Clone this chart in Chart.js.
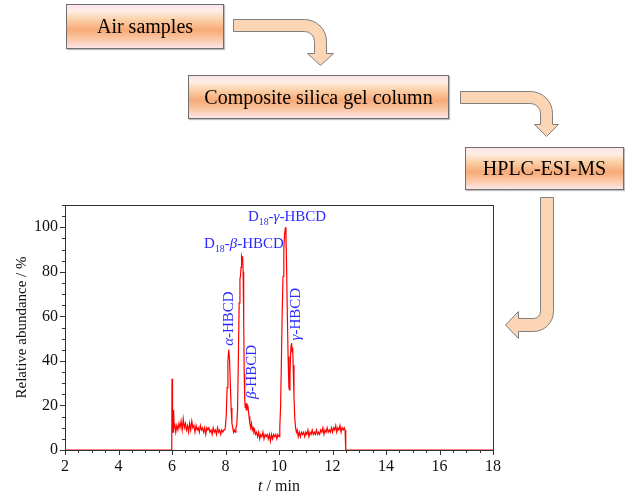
<!doctype html>
<html lang="en">
<head>
  <meta charset="utf-8">
  <title>HBCD chromatogram</title>
  <style>
    * { margin: 0; padding: 0; }
    body { width: 625px; height: 498px; background: white; overflow: hidden; position: relative; }
    .chartBox { position: absolute; left: 0; top: 0; width: 625px; height: 498px; }
    .box {
      position: absolute;
      border: 1px solid #6e6e6e;
      box-shadow: 1px 1px 1px rgba(0,0,0,0.25);
      background: linear-gradient(to bottom, #fce3ea 0%, #fdeee6 14%, #fbd0a8 34%, #f8aa78 58%, #fbc8a6 80%, #fce5e8 100%);
      font-family: 'Liberation Serif', serif;
      font-size: 20px;
      color: #000;
      display: flex;
      align-items: center;
      justify-content: center;
      box-sizing: border-box;
    }
    #arrows { position: absolute; left: 0; top: 0; }
  </style>
</head>
<body>
  <div class="chartBox"><canvas id="myChart"></canvas></div>

  <!-- flow chart on top -->
  <div class="box" style="left:66px; top:4px; width:158px; height:45px;">Air samples</div>
  <div class="box" style="left:188px; top:75px; width:261px; height:44px;">Composite silica gel column</div>
  <div class="box" style="left:465px; top:147px; width:159px; height:43px;">HPLC-ESI-MS</div>
  <svg id="arrows" width="625" height="498">
    <g fill="#fcd5b4" stroke="#7f7f7f" stroke-width="1">
      <path d="M233.5 19.5 H304.5 A22 22 0 0 1 326.5 41.5 V53.5 H333.5 L320.5 65.5 L307.5 53.5 H314.5 V41.5 A10 10 0 0 0 304.5 31.5 H233.5 Z"/>
      <path d="M460.5 91.5 H530.5 A22 22 0 0 1 552.5 113.5 V124.5 H558.5 L546.5 136.5 L534.5 124.5 H540.5 V113.5 A10 10 0 0 0 530.5 103.5 H460.5 Z"/>
      <path d="M540.5 197.5 H553.5 V311.5 A20 20 0 0 1 533.5 331.5 H518.5 V338.5 L505.5 325 L518.5 311.5 V318.5 H533.5 A7 7 0 0 0 540.5 311.5 Z"/>
    </g>
  </svg>

  <script type="text/javascript" src="https://cdn.jsdelivr.net/npm/chart.js"></script>
  <script>
    // retention time (min) and relative abundance (%)
    const time = [
      2.00, 5.99, 6.00, 6.02, 6.04, 6.06, 6.08, 6.10, 6.14, 6.18, 6.22, 6.26, 6.30, 6.34, 6.38, 6.42, 6.46, 6.50,
      6.54, 6.58, 6.62, 6.66, 6.70, 6.74, 6.78, 6.82, 6.86, 6.90, 6.94, 6.98, 7.02, 7.06, 7.10, 7.14, 7.18, 7.22,
      7.26, 7.30, 7.34, 7.38, 7.42, 7.46, 7.50, 7.54, 7.58, 7.62, 7.66, 7.70, 7.74, 7.78, 7.82, 7.86, 7.90, 7.94,
      7.98, 8.00, 8.03, 8.06, 8.09, 8.12, 8.15, 8.18, 8.21, 8.24, 8.27, 8.30, 8.33, 8.36, 8.39, 8.42, 8.45, 8.48,
      8.51, 8.54, 8.56, 8.58, 8.60, 8.62, 8.64, 8.66, 8.68, 8.70, 8.72, 8.74, 8.76, 8.78, 8.80, 8.82, 8.84, 8.86,
      8.88, 8.91, 8.94, 8.97, 9.00, 9.03, 9.06, 9.09, 9.12, 9.16, 9.20, 9.24, 9.28, 9.32, 9.36, 9.40, 9.44, 9.48,
      9.52, 9.56, 9.60, 9.64, 9.68, 9.72, 9.76, 9.80, 9.84, 9.88, 9.92, 9.96, 10.00, 10.03, 10.06, 10.09, 10.12,
      10.15, 10.18, 10.21, 10.24, 10.26, 10.28, 10.31, 10.34, 10.37, 10.39, 10.41, 10.43, 10.45, 10.47, 10.49,
      10.51, 10.53, 10.56, 10.59, 10.62, 10.65, 10.68, 10.72, 10.76, 10.80, 10.84, 10.88, 10.92, 10.96, 11.00,
      11.04, 11.08, 11.12, 11.16, 11.20, 11.24, 11.28, 11.32, 11.36, 11.40, 11.44, 11.48, 11.52, 11.56, 11.60,
      11.64, 11.68, 11.72, 11.76, 11.80, 11.84, 11.88, 11.92, 11.96, 12.00, 12.04, 12.08, 12.12, 12.16, 12.20,
      12.24, 12.28, 12.32, 12.36, 12.40, 12.44, 12.47, 12.49, 12.50, 18.00
    ];
    const abundance = [
      0, 0, 32, 20, 8, 18, 10, 12, 8, 11, 9, 12, 10, 13, 9, 14, 10, 12,
      9, 11, 8, 12, 9, 13, 10, 11, 8, 11, 9, 10, 8, 11, 9, 10, 8, 10,
      7, 10, 9, 10, 8, 9, 7, 10, 8, 9, 7, 10, 8, 9, 7, 9, 8, 9,
      9, 11, 16, 28, 40, 45, 41, 30, 19, 12, 10, 8, 9, 8, 10, 11, 18, 40,
      66, 77, 78, 82, 87, 86, 87, 80, 58, 34, 22, 19, 21, 18, 21, 19, 20, 17,
      15, 12, 10, 12, 9, 10, 8, 9, 7, 8, 6, 8, 5, 7, 6, 8, 5, 7,
      6, 7, 5, 7, 4, 7, 5, 7, 6, 7, 5, 7, 6, 10, 20, 40, 62,
      78, 90, 97, 100, 97, 85, 62, 42, 28, 27, 33, 42, 47, 48, 44,
      46, 38, 24, 14, 10, 8, 9, 6, 8, 6, 8, 7, 8, 6, 8,
      7, 9, 6, 8, 7, 9, 7, 8, 7, 9, 7, 8, 7, 9, 8,
      10, 7, 9, 8, 10, 8, 9, 8, 10, 8, 10, 9, 11, 8, 10,
      9, 11, 8, 10, 9, 10, 9, 8, 0, 0
    ];

    const xTicks = [2, 4, 6, 8, 10, 12, 14, 16, 18];
    const yTicks = [0, 20, 40, 60, 80, 100];

    // peak names: text pieces, anchor in data units
    const peakNames = [
      { parts: [['D'], ['18', 'sub'], ['-'], ['\u03B3', 'it'], ['-HBCD']], x: 10.30, y: 103, rotate: false },
      { parts: [['D'], ['18', 'sub'], ['-'], ['\u03B2', 'it'], ['-HBCD']], x: 8.69, y: 90.6, rotate: false },
      { parts: [['\u03B1', 'it'], ['-HBCD']], x: 8.13, y: 59, rotate: true },
      { parts: [['\u03B2', 'it'], ['-HBCD']], x: 8.99, y: 35, rotate: true },
      { parts: [['\u03B3', 'it'], ['-HBCD']], x: 10.64, y: 61, rotate: true }
    ];

    const serif = "'Liberation Serif', 'Times New Roman', serif";

    function fontFor(kind, size) {
      if (kind === 'sub') return (size * 0.65) + 'px ' + serif;
      if (kind === 'it') return 'italic ' + size + 'px ' + serif;
      return size + 'px ' + serif;
    }

    // draws mixed text (italic / subscript) centred on 0,0 of the current transform
    function drawParts(ctx, parts, size) {
      let total = 0;
      parts.forEach(p => { ctx.font = fontFor(p[1], size); total += ctx.measureText(p[0]).width; });
      let cx = -total / 2;
      parts.forEach(p => {
        ctx.font = fontFor(p[1], size);
        ctx.fillText(p[0], cx, p[1] === 'sub' ? size * 0.28 : 0);
        cx += ctx.measureText(p[0]).width;
      });
    }

    const frame = {
      id: 'frame',
      beforeDatasetsDraw(chart) {
        const { ctx, chartArea: a, scales: { x, y } } = chart;
        ctx.save();
        ctx.strokeStyle = '#333';
        ctx.lineWidth = 1;
        ctx.strokeRect(Math.round(a.left) + 0.5, Math.round(a.top) + 0.5,
          Math.round(a.right - a.left), Math.round(a.bottom - a.top));
        ctx.beginPath();
        // x ticks every 0.5 min, longer on the labelled ones
        for (let t = 2; t <= 18; t += 0.5) {
          const px = Math.round(x.getPixelForValue(t)) + 0.5;
          const len = xTicks.includes(t) ? 5 : 3;
          ctx.moveTo(px, Math.round(a.bottom)); ctx.lineTo(px, Math.round(a.bottom) + len);
        }
        for (let v = 0; v <= 110; v += 5) {
          const py = Math.round(y.getPixelForValue(v)) + 0.5;
          const len = yTicks.includes(v) ? 5 : 3;
          ctx.moveTo(Math.round(a.left), py); ctx.lineTo(Math.round(a.left) - len, py);
        }
        ctx.stroke();
        ctx.restore();
      },
      afterDraw(chart) {
        const { ctx, chartArea: a, scales: { x, y } } = chart;
        ctx.save();
        // peak names
        ctx.fillStyle = '#2a2aff';
        ctx.textAlign = 'left';
        peakNames.forEach(n => {
          ctx.save();
          ctx.translate(x.getPixelForValue(n.x), y.getPixelForValue(n.y));
          if (n.rotate) {
            ctx.rotate(-Math.PI / 2);
            ctx.textBaseline = 'middle';
          } else {
            ctx.textBaseline = 'alphabetic';
          }
          drawParts(ctx, n.parts, 15);
          ctx.restore();
        });
        // axis titles
        ctx.fillStyle = '#111';
        ctx.textBaseline = 'alphabetic';
        ctx.save();
        ctx.translate((a.left + a.right) / 2, 491);
        drawParts(ctx, [['t', 'it'], [' / min']], 16);
        ctx.restore();
        ctx.save();
        ctx.translate(22, (a.top + a.bottom) / 2);
        ctx.rotate(-Math.PI / 2);
        ctx.textBaseline = 'middle';
        drawParts(ctx, [['Relative abundance / %']], 15);
        ctx.restore();
        ctx.restore();
      }
    };

    const data = {
      datasets: [{
        data: time.map((t, i) => ({ x: t, y: abundance[i] })),
        borderColor: '#ff0000',
        borderWidth: 1.2,
        pointRadius: 0,
        tension: 0,
        fill: false
      }]
    };

    const config = {
      type: 'line',
      data,
      options: {
        responsive: true,
        maintainAspectRatio: false,
        animation: false,
        layout: { padding: { top: 205, right: 132, left: 0, bottom: 0 } },
        scales: {
          x: {
            type: 'linear',
            min: 2,
            max: 18,
            afterBuildTicks: s => { s.ticks = xTicks.map(v => ({ value: v })); },
            afterFit: s => { s.height = 48; },
            grid: { display: true, drawOnChartArea: false, drawTicks: false },
            border: { display: false },
            ticks: { color: '#111', padding: 7, maxRotation: 0, font: { family: serif, size: 16 } }
          },
          y: {
            min: 0,
            max: 110,
            afterBuildTicks: s => { s.ticks = yTicks.map(v => ({ value: v })); },
            afterFit: s => { s.width = 65; },
            grid: { display: true, drawOnChartArea: false, drawTicks: false },
            border: { display: false },
            ticks: { color: '#111', padding: 7, font: { family: serif, size: 16 } }
          }
        },
        plugins: {
          legend: { display: false },
          tooltip: { enabled: false }
        }
      },
      plugins: [frame]
    };

    const myChart = new Chart(document.getElementById('myChart'), config);
  </script>
</body>
</html>
